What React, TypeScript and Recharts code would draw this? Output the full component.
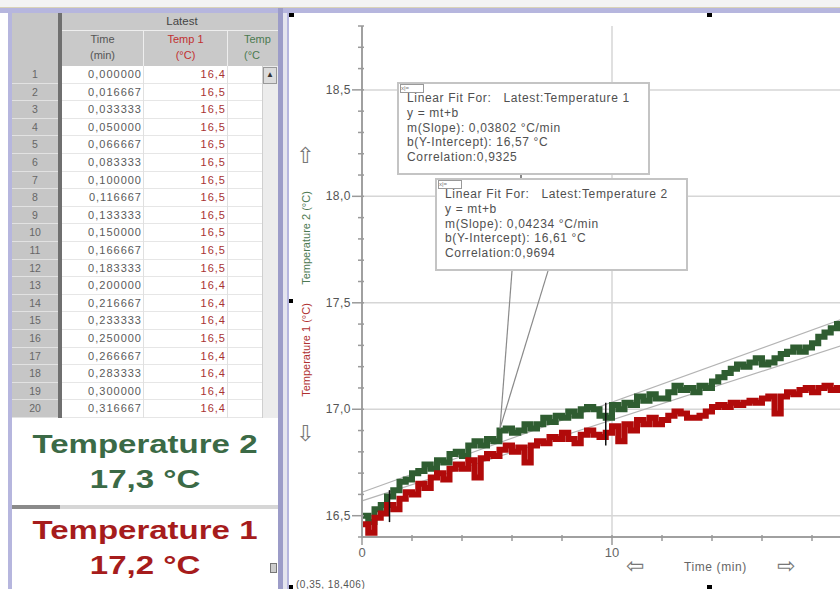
import React from 'react'
import { LineChart, Line, XAxis, YAxis, ReferenceLine } from 'recharts'

// readings taken off the graph, one every quarter minute
const sampleStep = 0.25
const temp2 = [
  16.5, 16.47, 16.53, 16.55, 16.59, 16.62, 16.66, 16.67, 16.7, 16.71,
  16.74, 16.72, 16.76, 16.75, 16.79, 16.8, 16.78, 16.83, 16.85, 16.83,
  16.86, 16.85, 16.9, 16.91, 16.89, 16.9, 16.93, 16.91, 16.93, 16.96,
  16.94, 16.97, 16.96, 16.99, 16.97, 17.0, 17.01, 17.0, 16.97, 16.96,
  17.02, 17.0, 17.03, 17.02, 17.06, 17.04, 17.07, 17.05, 17.05, 17.08,
  17.11, 17.09, 17.1, 17.08, 17.11, 17.1, 17.13, 17.15, 17.17, 17.19,
  17.21, 17.2, 17.22, 17.24, 17.21, 17.22, 17.24, 17.26, 17.27, 17.29,
  17.27, 17.29, 17.31, 17.34, 17.36, 17.38, 17.4, 17.42,
]
const temp1 = [
  16.46, 16.42, 16.49, 16.51, 16.55, 16.53, 16.58, 16.61, 16.6, 16.65,
  16.63, 16.68, 16.7, 16.67, 16.72, 16.74, 16.72, 16.76, 16.68, 16.77,
  16.79, 16.78, 16.81, 16.83, 16.8, 16.82, 16.75, 16.83, 16.85, 16.84,
  16.87, 16.86, 16.89, 16.86, 16.84, 16.88, 16.9, 16.88, 16.87, 16.89,
  16.92, 16.85, 16.93, 16.9, 16.95, 16.93, 16.96, 16.93, 16.95, 16.97,
  16.99, 16.98, 16.96, 16.96, 16.97, 16.99, 17.01, 17.02, 17.01, 17.03,
  17.02, 17.03, 17.04, 17.03, 17.05, 17.06, 16.98, 17.06, 17.08, 17.07,
  17.09, 17.1, 17.08, 17.1, 17.11, 17.09, 17.1, 17.11,
]

// linear fits shown in the two boxes
const fit1 = { m: 0.03802, b: 16.57, r: 0.9325 }
const fit2 = { m: 0.04234, b: 16.61, r: 0.9694 }

const yTicks = [16.4, 16.5, 16.6, 16.7, 16.8, 16.9, 17, 17.1, 17.2, 17.3, 17.4, 17.5, 17.6, 17.7, 17.8, 17.9, 18, 18.1, 18.2, 18.3, 18.4, 18.5, 18.6, 18.7, 18.8]
const xTicks = [0, 2, 4, 6, 8, 10, 12, 14, 16, 18, 20]
const xLabels = [0, 10]
const gridY = [16.5, 17, 17.5, 18, 18.5]
const gridX = [10, 20]

// data table on the left
const tableTimes = ['0,000000', '0,016667', '0,033333', '0,050000', '0,066667', '0,083333', '0,100000', '0,116667', '0,133333', '0,150000', '0,166667', '0,183333', '0,200000', '0,216667', '0,233333', '0,250000', '0,266667', '0,283333', '0,300000', '0,316667']
const tableTemp1 = ['16,4', '16,5', '16,5', '16,5', '16,5', '16,5', '16,5', '16,5', '16,5', '16,5', '16,5', '16,5', '16,4', '16,4', '16,4', '16,5', '16,4', '16,4', '16,4', '16,4']

// examine point the boxes point to, and cursor marks
const examine = { t: 5.52, y: 16.91 }
const leaderTop = 17.65
const leaderX = [6.0, 7.44]
const cursorMarks = [
  { t: 1.1, lo: 16.47, hi: 16.62 },
  { t: 9.75, lo: 16.83, hi: 17.03 },
]

const FONT = '"Liberation Sans", Arial, sans-serif'
const GREEN = '#2f5d31'
const RED = '#b10a0a'
const LAV = '#b6b6de'

const fmt = (v: number) => String(v).replace('.', ',')
const isMajor = (v: number) => Math.abs(v * 2 - Math.round(v * 2)) < 1e-6

const YTick = (props: any) => {
  const { x, y, payload } = props
  const major = isMajor(payload.value)
  return (
    <g>
      <line x1={x - (major ? 10 : 4)} x2={x + 2} y1={y} y2={y} stroke="#9a9a9a" strokeWidth={1.5} />
      {major && (
        <text x={x - 11} y={y} dy={4} textAnchor="end" fontSize={12} fill="#555" fontFamily={FONT} letterSpacing={0.5}>
          {payload.value.toFixed(1).replace('.', ',')}
        </text>
      )}
    </g>
  )
}

const XTick = (props: any) => {
  const { x, y, payload } = props
  const labelled = xLabels.includes(payload.value)
  return (
    <g>
      <line x1={x} x2={x} y1={y - 2} y2={y + (labelled ? 8 : 4)} stroke="#9a9a9a" strokeWidth={1.5} />
      {labelled && (
        <text x={x} y={y} dy={20} textAnchor="middle" fontSize={13} fill="#666" fontFamily={FONT}>
          {payload.value}
        </text>
      )}
    </g>
  )
}

const abs = (left: number, top: number, extra: React.CSSProperties = {}): React.CSSProperties => ({
  position: 'absolute',
  left,
  top,
  ...extra,
})

function FitBox({ left, top, fit, name }: { left: number; top: number; fit: typeof fit1; name: string }) {
  const lines = [
    `Linear Fit For:   Latest:${name}`,
    'y = mt+b',
    `m(Slope): ${fmt(fit.m)} °C/min`,
    `b(Y-Intercept): ${fmt(fit.b)} °C`,
    `Correlation:${fmt(fit.r)}`,
  ]
  return (
    <div
      style={abs(left, top, {
        width: 249,
        height: 89,
        background: '#fff',
        border: '2px solid #c4c4c4',
        fontFamily: FONT,
        fontSize: 12,
        color: '#505050',
      })}
    >
      <div style={abs(1, 0, { width: 22, height: 7, border: '1px solid #999', fontSize: 6, lineHeight: '7px', color: '#777' })}>x|=</div>
      {lines.map((l, i) => (
        <div key={i} style={abs(8, 7 + i * 14.8, { whiteSpace: 'pre', letterSpacing: 0.65 })}>
          {l}
        </div>
      ))}
    </div>
  )
}

export default function App() {
  const data = temp2.map((v, i) => ({ t: i * sampleStep, temp2: v, temp1: temp1[i] }))
  const rowTop = 66
  const rowH = 17.6

  return (
    <div style={abs(0, 0, { width: 840, height: 589, overflow: 'hidden', background: '#fff', fontFamily: FONT })}>
      {/* window frame */}
      <div style={abs(0, 0, { width: 840, height: 7, background: '#f3f3f3' })} />
      <div style={abs(0, 7, { width: 840, height: 1, background: '#d9d2b8' })} />
      <div style={abs(0, 8, { width: 840, height: 5, background: LAV })} />
      <div style={abs(8, 8, { width: 4, height: 581, background: LAV })} />
      <div style={abs(278, 8, { width: 5, height: 581, background: '#9c9cc8' })} />
      <div style={abs(283, 13, { width: 4, height: 576, background: '#e4e4ee' })} />
      <div style={abs(287, 13, { width: 2, height: 576, background: LAV })} />

      {/* table header */}
      <div style={abs(12, 13, { width: 266, height: 53, background: '#d4d4d4' })} />
      <div style={abs(62, 13, { width: 216, height: 17, background: '#c9c9c9', borderBottom: '1px solid #eee', textAlign: 'center', fontSize: 11.5, lineHeight: '17px', color: '#444' })}>
        <span style={{ position: 'relative', left: 12 }}>Latest</span>
      </div>
      <div style={abs(62, 31, { width: 81, height: 35, background: '#c9c9c9', borderRight: '1px solid #eee', textAlign: 'center', fontSize: 11, lineHeight: '16px', color: '#555' })}>
        Time<br />(min)
      </div>
      <div style={abs(144, 31, { width: 83, height: 35, background: '#c9c9c9', borderRight: '1px solid #eee', textAlign: 'center', fontSize: 11, lineHeight: '16px', color: '#c23030' })}>
        Temp 1<br />(°C)
      </div>
      <div style={abs(228, 31, { width: 50, height: 35, background: '#c9c9c9', fontSize: 11, lineHeight: '16px', color: '#4b7a50', paddingLeft: 16, overflow: 'hidden', whiteSpace: 'nowrap', boxSizing: 'border-box' })}>
        Temp<br />(°C
      </div>
      <div style={abs(12, 13, { width: 46, height: 53, background: '#c6c6c6' })} />
      <div style={abs(58, 13, { width: 4, height: 405, background: '#6f6f6f' })} />

      {/* table rows */}
      {tableTimes.map((tm, i) => {
        const top = rowTop + i * rowH
        return (
          <React.Fragment key={i}>
            <div style={abs(12, top, { width: 46, height: rowH - 1, background: '#c6c6c6', borderBottom: '1px solid #e2e2e2', textAlign: 'center', fontSize: 10.5, lineHeight: `${rowH}px`, color: '#666' })}>
              {i + 1}
            </div>
            <div style={abs(62, top, { width: 200, height: rowH - 1, background: '#fff', borderBottom: '1px solid #e6e6e6' })} />
            <div style={abs(62, top, { width: 80, textAlign: 'right', fontSize: 11, lineHeight: `${rowH}px`, color: '#5a5a5a', letterSpacing: 1 })}>{tm}</div>
            <div style={abs(144, top, { width: 82, textAlign: 'right', fontSize: 11, lineHeight: `${rowH}px`, color: '#a83232', letterSpacing: 1 })}>{tableTemp1[i]}</div>
          </React.Fragment>
        )
      })}
      <div style={abs(143, 66, { width: 1, height: 352, background: '#e0e0e0' })} />
      <div style={abs(227, 66, { width: 1, height: 352, background: '#e0e0e0' })} />
      {/* scroll bar */}
      <div style={abs(262, 66, { width: 16, height: 352, background: '#ececec', borderLeft: '1px solid #cfcfcf', boxSizing: 'border-box' })} />
      <div style={abs(263, 67, { width: 14, height: 17, background: '#dcdcdc', border: '1px solid #999', boxSizing: 'border-box', fontSize: 8, textAlign: 'center', lineHeight: '14px', color: '#333' })}>▲</div>

      {/* meters */}
      <div style={abs(12, 418, { width: 266, height: 88, background: '#fff' })} />
      <div style={abs(12, 427, { width: 266, textAlign: 'center', fontSize: 25, fontWeight: 'bold', lineHeight: '35px', color: '#3b6a46', transform: 'scaleX(1.32)' })}>
        Temperature 2<br />17,3 °C
      </div>
      <div style={abs(12, 505, { width: 266, height: 4, background: '#d6d6d6' })} />
      <div style={abs(12, 505, { width: 48, height: 4, background: '#8a8a8a' })} />
      <div style={abs(12, 513, { width: 266, textAlign: 'center', fontSize: 25, fontWeight: 'bold', lineHeight: '35px', color: '#a61c1c', transform: 'scaleX(1.32)' })}>
        Temperature 1<br />17,2 °C
      </div>
      <div style={abs(270, 563, { width: 7, height: 10, background: '#ccc', border: '1px solid #777', boxSizing: 'border-box' })} />

      {/* graph */}
      <div style={abs(289, 13, { width: 551, height: 576, background: '#fff' })} />
      <div style={abs(290, 0, { width: 600, height: 589 })}>
        <LineChart width={600} height={589} data={data} margin={{ top: 26, right: 28, bottom: 22, left: 0 }}>
          {gridY.map((g) => (
            <ReferenceLine key={'gy' + g} y={g} stroke="#d6d6d6" strokeWidth={1.5} />
          ))}
          {gridX.map((g) => (
            <ReferenceLine key={'gx' + g} x={g} stroke="#d6d6d6" strokeWidth={1.5} />
          ))}
          <XAxis
            type="number"
            dataKey="t"
            domain={[0, 20]}
            ticks={xTicks}
            interval={0}
            tickSize={0}
            tickMargin={0}
            height={30}
            axisLine={{ stroke: '#a0a0a0', strokeWidth: 2 }}
            tick={<XTick />}
          />
          <YAxis
            type="number"
            domain={[16.4, 18.8]}
            ticks={yTicks}
            interval={0}
            tickSize={0}
            tickMargin={0}
            width={72}
            allowDataOverflow
            axisLine={{ stroke: '#a0a0a0', strokeWidth: 2 }}
            tick={<YTick />}
          />
          <ReferenceLine segment={[{ x: 0, y: fit1.b }, { x: 20, y: fit1.b + fit1.m * 20 }]} stroke="#b4b4b4" strokeWidth={1.2} />
          <ReferenceLine segment={[{ x: 0, y: fit2.b }, { x: 20, y: fit2.b + fit2.m * 20 }]} stroke="#b4b4b4" strokeWidth={1.2} />
          <Line type="stepAfter" dataKey="temp2" stroke={GREEN} strokeWidth={6} dot={false} isAnimationActive={false} />
          <Line type="stepAfter" dataKey="temp1" stroke={RED} strokeWidth={6} dot={false} isAnimationActive={false} />
          {cursorMarks.map((c) => (
            <ReferenceLine key={'c' + c.t} segment={[{ x: c.t, y: c.lo }, { x: c.t, y: c.hi }]} stroke="#111" strokeWidth={1.5} />
          ))}
          {leaderX.map((lx) => (
            <ReferenceLine key={'l' + lx} segment={[{ x: examine.t, y: examine.y }, { x: lx, y: leaderTop }]} stroke="#8a8a8a" strokeWidth={1.2} />
          ))}
        </LineChart>
      </div>

      {/* axis captions */}
      <div style={abs(306, 238, { transform: 'translate(-50%, -50%) rotate(-90deg)', fontSize: 11, color: '#4d7a52', whiteSpace: 'nowrap' })}>Temperature 2 (°C)</div>
      <div style={abs(306, 350, { transform: 'translate(-50%, -50%) rotate(-90deg)', fontSize: 11, color: '#b03030', whiteSpace: 'nowrap' })}>Temperature 1 (°C)</div>
      <div style={abs(296, 143, { fontSize: 22, color: '#777', fontFamily: '"DejaVu Sans"' })}>⇧</div>
      <div style={abs(296, 421, { fontSize: 22, color: '#777', fontFamily: '"DejaVu Sans"' })}>⇩</div>
      <div style={abs(626, 555, { fontSize: 22, color: '#777', fontFamily: '"DejaVu Sans"', lineHeight: '22px' })}>⇦</div>
      <div style={abs(684, 560, { fontSize: 12, color: '#666', letterSpacing: 0.6 })}>Time (min)</div>
      <div style={abs(777, 555, { fontSize: 22, color: '#777', fontFamily: '"DejaVu Sans"', lineHeight: '22px' })}>⇨</div>
      <div style={abs(296, 579, { fontSize: 10, color: '#555', letterSpacing: 0.5 })}>(0,35, 18,406)</div>

      {/* handles */}
      <div style={abs(289, 13, { width: 5, height: 4, background: '#000' })} />
      <div style={abs(707, 13, { width: 5, height: 4, background: '#000' })} />
      <div style={abs(289, 299, { width: 4, height: 4, background: '#000' })} />
      <div style={abs(289, 585, { width: 4, height: 4, background: '#000' })} />
      <div style={abs(707, 585, { width: 5, height: 4, background: '#000' })} />

      {/* fit boxes */}
      <FitBox left={397} top={82} fit={fit1} name="Temperature 1" />
      <div style={abs(520, 175, { width: 1.5, height: 5, background: '#888' })} />
      <FitBox left={435} top={178} fit={fit2} name="Temperature 2" />
    </div>
  )
}
